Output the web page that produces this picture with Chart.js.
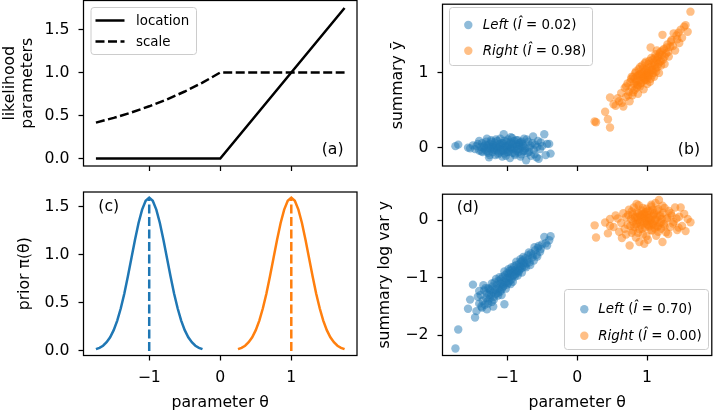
<!DOCTYPE html>
<html><head><meta charset="utf-8">
<script src="https://cdn.jsdelivr.net/npm/chart.js@4.4.1/dist/chart.umd.min.js"></script>
<style>
html,body{margin:0;padding:0;background:#fff;width:716px;height:412px;overflow:hidden;}
canvas{position:absolute;}
</style></head><body>
<canvas id="ca" width="370" height="190" style="left:0px;top:0px"></canvas>
<canvas id="cb" width="346" height="190" style="left:370px;top:0px"></canvas>
<canvas id="cc" width="370" height="222" style="left:0px;top:190px"></canvas>
<canvas id="cd" width="346" height="222" style="left:370px;top:190px"></canvas>
<script>
// ---------- data ----------
const xTickValues = [-1, 0, 1];
const xTickLabels = ['\u22121', '0', '1'];
const yTicksA = [0, 0.5, 1, 1.5];
const yLabelsA = ['0.0', '0.5', '1.0', '1.5'];
const yTicksB = [0, 1];
const yLabelsB = ['0', '1'];
const yTicksC = [0, 0.5, 1, 1.5];
const yLabelsC = ['0.0', '0.5', '1.0', '1.5'];
const yTicksD = [-2, -1, 0];
const yLabelsD = ['\u22122', '\u22121', '0'];

// panel (a): likelihood parameters
const paramTheta = [-1.75, -1.5, -1.25, -1, -0.75, -0.5, -0.25, 0, 1.75];
const locationVals = [0, 0, 0, 0, 0, 0, 0, 0, 1.75];
const scaleVals = [0.417, 0.472, 0.535, 0.607, 0.687, 0.779, 0.882, 1.0, 1.0];

// panel (c): priors
const priorLeftTheta = [-1.75,-1.70,-1.65,-1.60,-1.55,-1.50,-1.45,-1.40,-1.35,-1.30,-1.25,-1.20,-1.15,-1.10,-1.05,-1.00,-0.95,-0.90,-0.85,-0.80,-0.75,-0.70,-0.65,-0.60,-0.55,-0.50,-0.45,-0.40,-0.35,-0.30,-0.25];
const priorRightTheta = [0.25,0.30,0.35,0.40,0.45,0.50,0.55,0.60,0.65,0.70,0.75,0.80,0.85,0.90,0.95,1.00,1.05,1.10,1.15,1.20,1.25,1.30,1.35,1.40,1.45,1.50,1.55,1.60,1.65,1.70,1.75];
const priorLeftDensity = [0.018,0.032,0.054,0.090,0.142,0.216,0.316,0.444,0.599,0.777,0.968,1.159,1.333,1.473,1.564,1.596,1.564,1.473,1.333,1.159,0.968,0.777,0.599,0.444,0.316,0.216,0.142,0.090,0.054,0.032,0.018];
const priorRightDensity = [0.018,0.032,0.054,0.090,0.142,0.216,0.316,0.444,0.599,0.777,0.968,1.159,1.333,1.473,1.564,1.596,1.564,1.473,1.333,1.159,0.968,0.777,0.599,0.444,0.316,0.216,0.142,0.090,0.054,0.032,0.018];
const priorMeans = [-1, 1];
const priorPeak = 1.596;

// panels (b), (d): simulated summaries
const leftTheta = [-1.74,-1.70,-1.56,-1.53,-1.49,-1.46,-1.42,-1.40,-1.38,-1.36,
-1.35,-1.33,-1.32,-1.30,-1.29,-1.28,-1.27,-1.26,-1.25,-1.24,
-1.23,-1.22,-1.21,-1.20,-1.19,-1.18,-1.17,-1.16,-1.15,-1.14,
-1.13,-1.12,-1.11,-1.10,-1.10,-1.09,-1.08,-1.07,-1.06,-1.05,
-1.05,-1.04,-1.03,-1.02,-1.01,-1.00,-1.00,-0.99,-0.98,-0.97,
-0.96,-0.96,-0.95,-0.94,-0.93,-0.92,-0.91,-0.90,-0.90,-0.89,
-0.88,-0.87,-0.86,-0.85,-0.84,-0.83,-0.82,-0.81,-0.80,-0.79,
-0.78,-0.77,-0.76,-0.74,-0.73,-0.71,-0.70,-0.68,-0.66,-0.64,
-0.62,-0.60,-0.58,-0.56,-0.53,-0.50,-0.47,-0.43,-0.40,-0.38,
-1.31,-1.27,-1.22,-1.19,-1.16,-1.13,-1.11,-1.08,-1.06,-1.04,
-1.02,-0.99,-0.98,-0.95,-0.94,-0.92,-0.89,-0.87,-0.85,-0.83,
-0.81,-0.79,-0.77,-0.75,-0.72,-0.69,-0.67,-0.63,-0.61,-0.57,
-0.55,-0.52,-0.45,-1.44,-1.40,-1.37,-1.34,-1.29,-1.25,-1.20];
const leftYbar = [0.02,0.04,0.00,-0.01,0.03,-0.02,0.05,-0.04,0.01,0.06,
-0.06,0.02,-0.03,0.08,-0.05,0.03,0.00,-0.13,0.05,-0.02,
0.10,0.01,-0.06,0.04,-0.01,0.07,-0.10,0.02,-0.04,0.09,
0.00,-0.07,0.05,-0.02,0.12,-0.05,0.03,-0.12,0.06,-0.01,
0.18,-0.08,0.02,-0.03,0.08,-0.06,0.01,0.11,-0.04,0.04,
-0.14,0.00,0.07,-0.02,0.13,-0.07,0.03,-0.01,0.09,-0.10,
0.05,-0.04,0.02,0.10,-0.06,0.04,-0.02,0.07,-0.09,0.01,
0.05,-0.05,0.12,-0.01,-0.17,-0.07,0.08,0.00,-0.11,0.06,
-0.03,0.04,-0.13,0.09,-0.02,0.02,0.18,0.05,0.05,-0.08,
0.04,-0.07,0.08,-0.03,0.11,-0.09,0.01,0.06,-0.04,0.09,
-0.11,0.03,-0.06,0.14,0.00,0.05,-0.08,0.10,-0.02,0.06,
-0.12,0.08,0.02,-0.04,0.11,-0.06,0.03,0.15,-0.09,0.01,
-0.15,0.07,-0.10,0.02,0.09,-0.05,0.00,0.12,-0.10,0.00];
const leftLogVar = [-2.23,-1.90,-1.54,-1.38,-1.12,-1.69,-1.33,-1.45,-1.30,-1.52,
-1.40,-1.22,-1.47,-1.35,-1.27,-1.41,-1.18,-1.30,-1.36,-1.22,
-1.29,-1.42,-1.15,-1.25,-1.33,-1.08,-1.21,-1.28,-1.12,-1.19,
-1.31,-1.05,-1.17,-1.24,-1.10,-1.02,-1.20,-1.11,-0.98,-1.14,
-1.06,-1.46,-0.95,-1.08,-1.01,-0.92,-1.12,-1.00,-0.94,-1.06,
-0.88,-0.99,-0.92,-1.03,-0.86,-0.97,-0.90,-0.80,-0.95,-0.87,
-0.93,-0.78,-0.89,-0.84,-0.91,-0.76,-0.85,-0.80,-0.72,-0.83,
-0.70,-0.78,-0.74,-0.66,-0.82,-0.69,-0.61,-0.73,-0.58,-0.65,
-0.70,-0.52,-0.60,-0.48,-0.55,-0.42,-0.29,-0.44,-0.35,-0.28,
-1.18,-1.45,-1.10,-1.38,-1.02,-1.26,-0.99,-1.30,-1.16,-0.89,
-1.19,-1.09,-0.85,-1.11,-0.82,-1.07,-0.98,-0.72,-0.96,-0.88,
-0.68,-0.91,-0.64,-0.80,-0.75,-0.56,-0.78,-0.60,-0.47,-0.63,
-0.45,-0.50,-0.40,-1.58,-1.23,-1.50,-1.13,-1.55,-1.20,-1.50];
const rightTheta = [0.25,0.27,0.40,0.44,0.47,0.47,0.52,0.55,0.60,0.63,
0.66,0.68,0.70,0.72,0.74,0.75,0.77,0.78,0.79,0.80,
0.81,0.82,0.83,0.84,0.85,0.86,0.87,0.88,0.89,0.90,
0.91,0.92,0.93,0.94,0.95,0.96,0.97,0.98,0.99,1.00,
1.00,1.01,1.02,1.03,1.04,1.05,1.06,1.07,1.08,1.09,
1.10,1.11,1.12,1.13,1.14,1.15,1.16,1.17,1.18,1.19,
1.20,1.21,1.22,1.23,1.24,1.25,1.27,1.29,1.31,1.33,
1.35,1.38,1.40,1.43,1.46,1.48,1.50,1.53,1.55,1.58,
1.62,1.05,0.96,0.89,0.93,1.00,1.08,0.86,1.15,0.98,
0.70,0.73,0.76,0.78,0.80,0.82,0.84,0.85,0.87,0.88,
0.90,0.91,0.93,0.94,0.96,0.97,0.99,1.01,1.02,1.03,
1.05,1.06,1.08,1.09,1.11,1.12,1.14,1.16,1.18,1.20,
1.22,1.25,1.28,1.30,1.34,1.37,1.42,1.45,0.58,0.64];
const rightYbar = [0.35,0.34,0.48,0.38,0.27,0.67,0.58,0.56,0.62,0.73,
0.55,0.80,0.68,0.86,0.75,0.62,0.92,0.80,0.70,0.95,
0.85,0.77,1.00,0.88,0.80,0.96,0.72,1.05,0.90,0.82,
0.99,0.87,1.10,0.93,0.78,1.02,0.91,1.15,0.97,0.85,
1.06,0.94,1.12,0.99,0.88,1.08,1.20,0.97,1.04,1.14,
0.95,1.10,1.25,1.02,1.17,1.08,1.22,1.00,1.15,1.28,
1.10,1.24,1.51,1.18,1.32,1.12,1.26,1.38,1.22,1.35,
1.44,1.53,1.30,1.45,1.40,1.58,1.47,1.62,1.64,1.55,
1.82,1.34,0.90,0.98,0.95,1.00,1.10,0.84,1.20,1.04,
0.82,0.70,0.88,0.95,0.74,0.92,1.02,0.90,0.83,0.97,
1.08,0.86,0.99,1.06,0.94,1.13,0.90,1.02,0.96,1.16,
0.92,1.04,1.18,1.00,1.20,1.06,1.30,1.12,1.26,1.16,
1.30,1.22,1.34,1.28,1.42,1.36,1.50,1.54,0.66,0.60];
const rightLogVar = [-0.09,-0.30,-0.04,-0.23,-0.10,0.02,-0.12,0.08,-0.20,-0.05,
0.12,-0.15,0.05,-0.08,0.18,-0.44,0.02,-0.22,0.10,-0.03,
0.22,-0.12,0.06,-0.30,0.14,-0.06,0.00,0.26,-0.16,0.08,
-0.09,0.17,-0.02,-0.25,0.04,0.11,-0.13,0.01,0.20,-0.07,
0.09,-0.34,0.03,-0.11,0.15,-0.04,0.24,-0.18,0.07,-0.08,
0.12,-0.01,0.30,-0.27,0.05,-0.10,0.19,0.35,-0.05,0.09,
-0.15,0.02,-0.38,0.13,-0.07,0.21,-0.21,0.04,0.16,-0.12,
0.08,-0.03,0.22,-0.17,0.06,0.22,-0.10,0.11,-0.19,0.02,
-0.035,0.00,-0.41,-0.38,0.10,-0.02,0.18,0.05,-0.12,0.14,
-0.25,0.09,-0.10,0.15,-0.18,0.03,-0.07,0.28,-0.22,0.12,
-0.03,0.06,-0.15,0.21,-0.05,0.08,-0.28,0.16,-0.09,0.04,
-0.17,0.27,-0.06,0.10,-0.14,0.01,0.17,-0.20,0.07,-0.04,
0.25,-0.11,0.02,-0.24,0.12,-0.06,0.03,-0.13,0.03,-0.31];

const classNames = ['Left', 'Right'];
const importanceB = ['0.02', '0.98'];
const importanceD = ['0.70', '0.00'];
const lineLegendLabels = ['location', 'scale'];
const panelLabels = ['(a)', '(b)', '(c)', '(d)'];

// ---------- styling ----------
const FONT = "'DejaVu Sans', sans-serif";
const FS = 15.7, LFS = 13.4;
const BLUE = '#1f77b4', ORANGE = '#ff7f0e';
const BLUE_A = 'rgba(31,119,180,0.5)', ORANGE_A = 'rgba(255,127,14,0.5)';
const LW = 2.5, DASH = [9, 3.5], PR = 4.2, FW = 1.25;
const xMin = -1.925, xMax = 1.925;

Chart.defaults.font.family = FONT;
Chart.defaults.color = '#000';

function zeroPad(s){ s.paddingTop = 0; s.paddingBottom = 0; s.paddingLeft = 0; s.paddingRight = 0; }

function xScale(showLabels, showTitle, h) {
  return {
    type: 'linear', position: 'bottom', min: xMin, max: xMax,
    afterBuildTicks: s => { s.ticks = xTickValues.map(v => ({value: v})); },
    afterFit: s => { s.height = h; zeroPad(s); },
    ticks: { display: showLabels, padding: 8, color: '#000', font: {size: FS}, autoSkip: false, maxRotation: 0,
             callback: v => xTickLabels[xTickValues.indexOf(v)] },
    grid: { display: true, drawOnChartArea: false, drawTicks: true, tickLength: 5, tickWidth: FW, tickColor: '#000' },
    border: { display: false },
    title: { display: showTitle, text: 'parameter \u03b8', color: '#000', font: {size: FS}, padding: {top: 0, bottom: 0} }
  };
}
function yScale(min, max, vals, labels, w, title, padTop, lh) {
  return {
    type: 'linear', position: 'left', min: min, max: max,
    afterBuildTicks: s => { s.ticks = vals.map(v => ({value: v})); },
    afterFit: s => { s.width = w; zeroPad(s); },
    ticks: { padding: 9, color: '#000', font: {size: FS}, autoSkip: false,
             callback: v => labels[vals.indexOf(v)] },
    grid: { display: true, drawOnChartArea: false, drawTicks: true, tickLength: 5, tickWidth: FW, tickColor: '#000' },
    border: { display: false },
    title: { display: true, text: title, color: '#000', font: {size: FS, lineHeight: lh || 1.2}, padding: {top: padTop, bottom: 0} }
  };
}

const framePlugin = {
  id: 'frame',
  afterDatasetsDraw(chart) {
    const {ctx, chartArea: a} = chart;
    ctx.save();
    ctx.strokeStyle = '#000'; ctx.lineWidth = FW;
    ctx.strokeRect(a.left, a.top, a.right - a.left, a.bottom - a.top);
    ctx.restore();
  }
};
function overlay(fn) { return { id: 'overlay', afterDraw(chart) { const ctx = chart.ctx; ctx.save(); fn(ctx, chart); ctx.restore(); } }; }

function legendBox(ctx, x0, y0, x1, y1) {
  const r = 3;
  ctx.beginPath();
  ctx.moveTo(x0 + r, y0); ctx.lineTo(x1 - r, y0); ctx.quadraticCurveTo(x1, y0, x1, y0 + r);
  ctx.lineTo(x1, y1 - r); ctx.quadraticCurveTo(x1, y1, x1 - r, y1);
  ctx.lineTo(x0 + r, y1); ctx.quadraticCurveTo(x0, y1, x0, y1 - r);
  ctx.lineTo(x0, y0 + r); ctx.quadraticCurveTo(x0, y0, x0 + r, y0);
  ctx.closePath();
  ctx.fillStyle = 'rgba(255,255,255,0.8)'; ctx.fill();
  ctx.strokeStyle = '#cccccc'; ctx.lineWidth = 1; ctx.stroke();
}
function richText(ctx, x, y, segs, size) {
  let cx = x;
  ctx.textAlign = 'left'; ctx.textBaseline = 'middle'; ctx.fillStyle = '#000';
  for (const [t, it] of segs) {
    ctx.font = (it ? 'italic ' : '') + size + 'px ' + FONT;
    ctx.fillText(t, cx, y);
    cx += ctx.measureText(t).width;
  }
}
function panelLabel(ctx, text, x, y, align) {
  ctx.font = FS + 'px ' + FONT; ctx.fillStyle = '#000';
  ctx.textAlign = align; ctx.textBaseline = 'middle';
  ctx.fillText(text, x, y);
}
function scatterLegend(ctx, box, mx, rows, tx, imps) {
  legendBox(ctx, box[0], box[1], box[2], box[3]);
  const cols = [BLUE_A, ORANGE_A];
  for (let i = 0; i < 2; i++) {
    ctx.beginPath(); ctx.arc(mx, rows[i], PR, 0, Math.PI * 2); ctx.fillStyle = cols[i]; ctx.fill();
    richText(ctx, tx, rows[i] + 0.5, [[classNames[i], true], [' (', false], ['\u00ce', true], [' = ', false], [imps[i] + ')', false]], LFS);
  }
}
const pts = (xs, ys) => xs.map((x, i) => ({x: x, y: ys[i]}));
const base = { responsive: false, animation: false, events: [], plugins: { legend: {display: false}, tooltip: {enabled: false} } };

// ---------- (a) ----------
new Chart(document.getElementById('ca'), {
  type: 'scatter',
  data: { datasets: [
    { data: pts(paramTheta, locationVals), showLine: true, borderColor: '#000', borderWidth: LW, pointRadius: 0, tension: 0 },
    { data: pts(paramTheta, scaleVals), showLine: true, borderColor: '#000', borderWidth: LW, borderDash: DASH, pointRadius: 0, tension: 0 }
  ]},
  options: Object.assign({}, base, {
    layout: { padding: {left: 0, top: 0.5, right: 13, bottom: 0} },
    scales: { x: xScale(false, false, 24), y: yScale(-0.0875, 1.8375, yTicksA, yLabelsA, 83.5, ['likelihood', 'parameters'], 1.2, 1.12) }
  }),
  plugins: [framePlugin, overlay((ctx) => {
    legendBox(ctx, 91, 7.5, 196.5, 54.5);
    ctx.strokeStyle = '#000'; ctx.lineWidth = LW;
    ctx.beginPath(); ctx.moveTo(95.5, 20.5); ctx.lineTo(124.5, 20.5); ctx.stroke();
    ctx.setLineDash(DASH);
    ctx.beginPath(); ctx.moveTo(95.5, 41.5); ctx.lineTo(124.5, 41.5); ctx.stroke();
    ctx.setLineDash([]);
    richText(ctx, 136, 21.5, [[lineLegendLabels[0], false]], LFS);
    richText(ctx, 136, 42.5, [[lineLegendLabels[1], false]], LFS);
    panelLabel(ctx, panelLabels[0], 343.5, 150, 'right');
  })]
});

// ---------- (b) ----------
new Chart(document.getElementById('cb'), {
  type: 'scatter',
  data: { datasets: [
    { data: pts(leftTheta, leftYbar), backgroundColor: BLUE_A, borderWidth: 0, pointRadius: PR },
    { data: pts(rightTheta, rightYbar), backgroundColor: ORANGE_A, borderWidth: 0, pointRadius: PR }
  ]},
  options: Object.assign({}, base, {
    layout: { padding: {left: 0, top: 0.5, right: 1, bottom: 0} },
    scales: { x: xScale(false, false, 24), y: yScale(-0.246, 1.92, yTicksB, yLabelsB, 72.5, 'summary \u0233', 18.6) }
  }),
  plugins: [framePlugin, overlay((ctx) => {
    scatterLegend(ctx, [79.5, 7.5, 222.5, 65.5], 98.3, [25, 50.7], 112.7, importanceB);
    panelLabel(ctx, panelLabels[1], 330, 150, 'right');
  })]
});

// ---------- (c) ----------
new Chart(document.getElementById('cc'), {
  type: 'scatter',
  data: { datasets: [
    { data: pts(priorLeftTheta, priorLeftDensity), showLine: true, borderColor: BLUE, borderWidth: LW, pointRadius: 0, tension: 0 },
    { data: pts(priorRightTheta, priorRightDensity), showLine: true, borderColor: ORANGE, borderWidth: LW, pointRadius: 0, tension: 0 },
    { data: [{x: priorMeans[0], y: 0}, {x: priorMeans[0], y: priorPeak}], showLine: true, borderColor: BLUE, borderWidth: LW, borderDash: DASH, pointRadius: 0 },
    { data: [{x: priorMeans[1], y: 0}, {x: priorMeans[1], y: priorPeak}], showLine: true, borderColor: ORANGE, borderWidth: LW, borderDash: DASH, pointRadius: 0 }
  ]},
  options: Object.assign({}, base, {
    layout: { padding: {left: 0, top: 2, right: 13, bottom: 0} },
    scales: { x: xScale(true, true, 56.5), y: yScale(-0.048, 1.656, yTicksC, yLabelsC, 83.5, 'prior \u03c0(\u03b8)', 15.1) }
  }),
  plugins: [framePlugin, overlay((ctx) => {
    panelLabel(ctx, panelLabels[2], 98.3, 17.3, 'left');
  })]
});

// ---------- (d) ----------
new Chart(document.getElementById('cd'), {
  type: 'scatter',
  data: { datasets: [
    { data: pts(leftTheta, leftLogVar), backgroundColor: BLUE_A, borderWidth: 0, pointRadius: PR },
    { data: pts(rightTheta, rightLogVar), backgroundColor: ORANGE_A, borderWidth: 0, pointRadius: PR }
  ]},
  options: Object.assign({}, base, {
    layout: { padding: {left: 0, top: 2, right: 1, bottom: 0} },
    scales: { x: xScale(true, true, 56.5), y: yScale(-2.351, 0.451, yTicksD, yLabelsD, 72.5, 'summary log var y', 5.6) }
  }),
  plugins: [framePlugin, overlay((ctx) => {
    scatterLegend(ctx, [194.5, 99.5, 338.5, 159.5], 214.3, [119.3, 145.7], 228.3, importanceD);
    panelLabel(ctx, panelLabels[3], 86.7, 18.3, 'left');
  })]
});
</script>
</body></html>
